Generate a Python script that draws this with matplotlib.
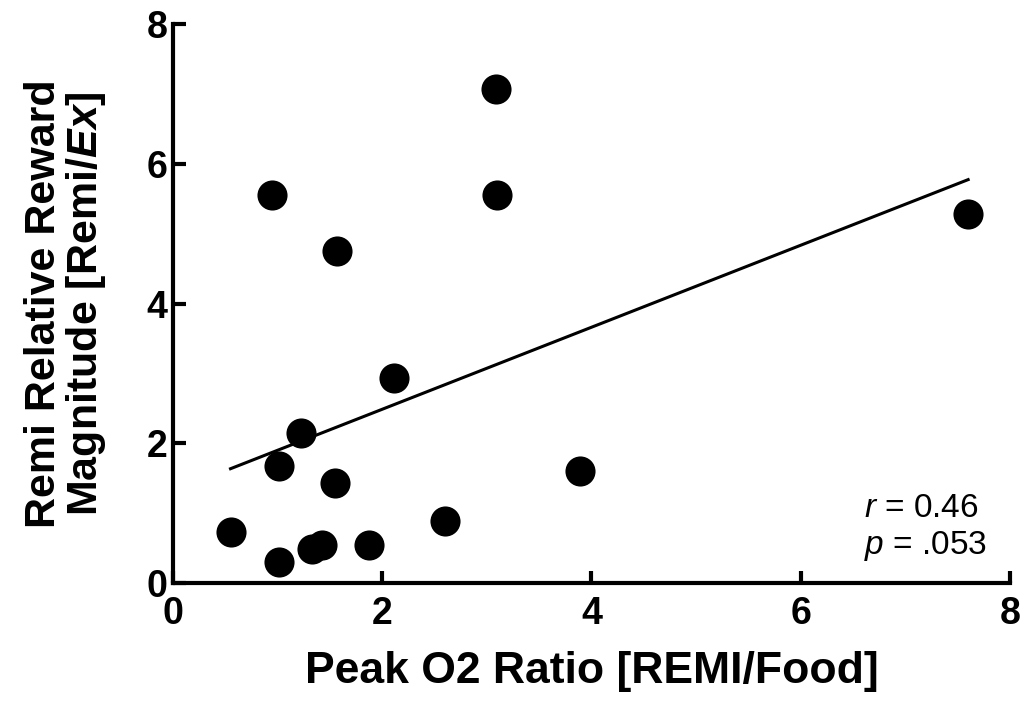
import numpy as np
import matplotlib.pyplot as plt

plt.rcParams['font.family'] = ['Liberation Sans', 'DejaVu Sans']
plt.rcParams['mathtext.fontset'] = 'custom'
plt.rcParams['mathtext.rm'] = 'Liberation Sans'
plt.rcParams['mathtext.it'] = 'Liberation Sans:italic'
plt.rcParams['mathtext.bf'] = 'Liberation Sans:bold'
plt.rcParams['mathtext.bfit'] = 'Liberation Sans:bold:italic'

# peak O2 ratio (REMI/food) vs remi relative reward magnitude
o2_ratio = [0.55, 1.01, 0.95, 1.01, 1.22, 1.33, 1.42, 1.55, 1.57, 1.87,
            2.11, 2.60, 3.09, 3.10, 3.89, 7.60]
reward_mag = [0.73, 0.30, 5.55, 1.67, 2.15, 0.49, 0.54, 1.43, 4.75, 0.54,
              2.93, 0.89, 7.07, 5.55, 1.60, 5.28]
ticks = [0, 2, 4, 6, 8]
stats_text = '$\\mathit{r}$ = 0.46\n$\\mathit{p}$ = .053'

x = np.array(o2_ratio)
y = np.array(reward_mag)
slope, icept = np.polyfit(x, y, 1)
xs = np.array([x.min(), x.max()])

fig = plt.figure(figsize=(10.26, 7.02), dpi=100)
ax = fig.add_axes([0.1686, 0.1695, 0.8158, 0.7963])

ax.scatter(x, y, s=470, color='black', zorder=3, clip_on=False, linewidths=0)
ax.plot(xs, slope * xs + icept, color='black', lw=2.2, zorder=2)

ax.set_xlim(0, 8)
ax.set_ylim(0, 8)
ax.set_xticks(ticks)
ax.set_yticks(ticks)
ax.spines['top'].set_visible(False)
ax.spines['right'].set_visible(False)
for s in ['left', 'bottom']:
    ax.spines[s].set_linewidth(3)
ax.tick_params(direction='in', length=9, width=3, labelsize=27)
ax.tick_params(axis='x', pad=9)
ax.tick_params(axis='y', pad=4)
for lab in ax.get_xticklabels() + ax.get_yticklabels():
    lab.set_fontweight('bold')

ax.set_xlabel('Peak O2 Ratio [REMI/Food]', fontsize=32, fontweight='bold', labelpad=14)
ax.set_ylabel('Remi Relative Reward\nMagnitude [Remi/$\\mathbfit{Ex}$]',
              fontsize=31, fontweight='bold', labelpad=28, linespacing=1.0)

ax.text(0.826, 0.035, stats_text, transform=ax.transAxes, fontsize=24,
        ha='left', va='bottom', linespacing=1.2)

fig.savefig('out.png', dpi=100)
